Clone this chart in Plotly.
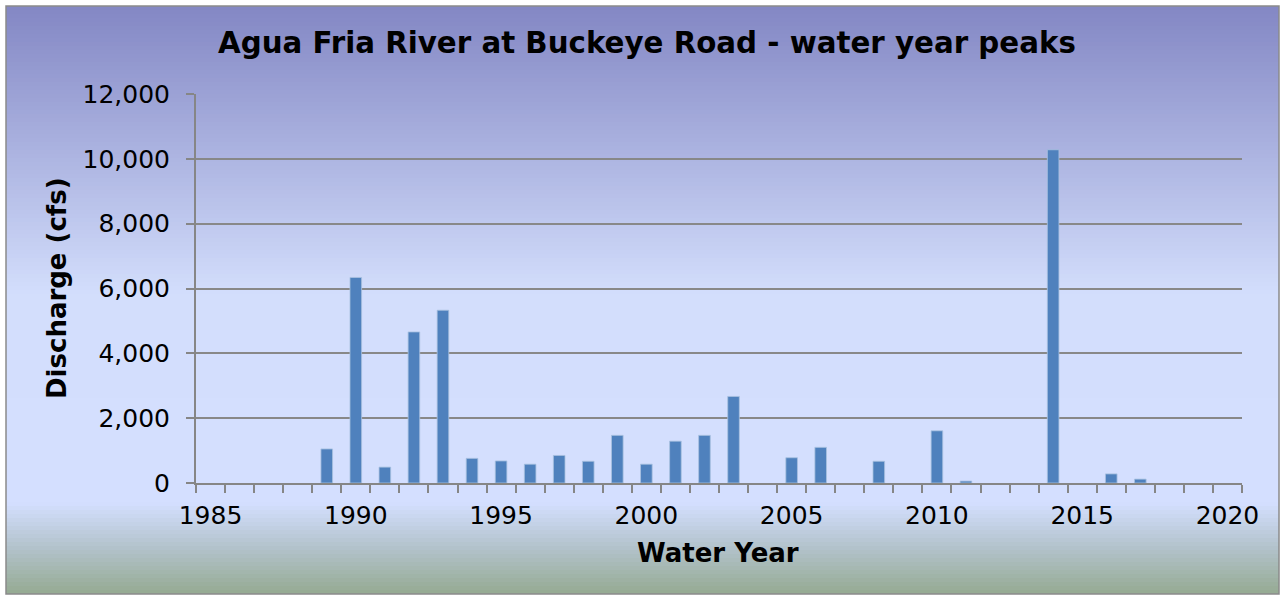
import plotly.graph_objects as go

years = list(range(1985, 2021))
peaks = [None, None, None, None, 1050, 6340, 490, 4660, 5330, 760,
         680, 580, 850, 670, 1470, 580, 1290, 1470, 2670, None,
         780, 1100, None, 670, None, 1610, 60, None, None, 10280,
         None, 280, 120, None, None, None]
y_ticks = [0, 2000, 4000, 6000, 8000, 10000, 12000]
x_ticks = [1985, 1990, 1995, 2000, 2005, 2010, 2015, 2020]

W, H = 1282, 598
L, R, T, B = 196, 40, 94, 115
PW, PH = W - L - R, H - T - B


def px(x):
    return (x - L) / PW


def py(y):
    return (H - B - y) / PH


def hex2rgb(h):
    h = h.lstrip('#')
    return [int(h[i:i + 2], 16) for i in (0, 2, 4)]


stops = [(0.0, '#8387C4'), (0.49, '#D3DEFC'), (0.845, '#D4DFFF'),
         (0.92, '#B3C3CC'), (1.0, '#95AA92')]


def grad(f):
    for (f0, c0), (f1, c1) in zip(stops[:-1], stops[1:]):
        if f0 <= f <= f1:
            t = (f - f0) / (f1 - f0) if f1 > f0 else 0
            a, b = hex2rgb(c0), hex2rgb(c1)
            return 'rgb(%d,%d,%d)' % tuple(round(a[i] + (b[i] - a[i]) * t) for i in range(3))
    return stops[-1][1]


shapes = []
top, bot = 6, 594
n = 147
step = (bot - top) / n
for i in range(n):
    y0 = top + i * step
    y1 = y0 + step + 0.6
    shapes.append(dict(type='rect', xref='paper', yref='paper', layer='below',
                       x0=px(6), x1=px(1279), y0=py(min(y1, bot)), y1=py(y0),
                       fillcolor=grad((i + 0.5) / n), line=dict(width=0)))
shapes.append(dict(type='rect', xref='paper', yref='paper', layer='below',
                   x0=px(6), x1=px(1279), y0=py(bot), y1=py(top),
                   fillcolor='rgba(0,0,0,0)', line=dict(color='#8a8a8a', width=1.5)))

fig = go.Figure(go.Bar(
    x=years, y=peaks, width=0.4,
    marker=dict(color='#4F81BD', line=dict(color='#A9C1E0', width=0.8)),
))

font = 'DejaVu Sans'
fig.update_layout(
    width=W, height=H,
    margin=dict(l=L, r=R, t=T, b=B),
    paper_bgcolor='white', plot_bgcolor='white',
    showlegend=False,
    shapes=shapes,
    font=dict(family=font, color='black'),
    title=dict(text='<b>Agua Fria River at Buckeye Road - water year peaks</b>',
               x=px(647), xref='paper', xanchor='center',
               y=1 - 43 / H, yref='container', yanchor='middle',
               font=dict(size=29.3, family=font, color='black')),
    xaxis=dict(range=[1984.5, 2020.5], tickvals=x_ticks, ticktext=[str(v) for v in x_ticks],
               ticks='', showgrid=False, zeroline=False,
               showline=True, linecolor='#868686', linewidth=2,
               tickfont=dict(size=25, family=font),
               ticklabelstandoff=9,
               minor=dict(ticks='outside', tick0=1984.5, dtick=1, ticklen=8,
                          tickcolor='#868686', tickwidth=2, showgrid=False)),
    yaxis=dict(range=[0, 12000], tickvals=y_ticks,
               ticktext=[f'{v:,}' for v in y_ticks],
               ticks='outside', ticklen=8, tickcolor='#868686', tickwidth=2,
               showgrid=True, gridcolor='#888888', gridwidth=1.5,
               zeroline=False, showline=True, linecolor='#868686', linewidth=2,
               tickfont=dict(size=25, family=font), ticklabelstandoff=11),
    annotations=[
        dict(text='<b>Water Year</b>', xref='paper', yref='paper',
             x=px(718), y=py(553), xanchor='center', yanchor='middle',
             showarrow=False, font=dict(size=26, family=font, color='black')),
        dict(text='<b>Discharge (cfs)</b>', xref='paper', yref='paper',
             x=px(57), y=py(288), xanchor='center', yanchor='middle', textangle=-90,
             showarrow=False, font=dict(size=26, family=font, color='black')),
    ],
)

fig.write_html('out.html', config={'displayModeBar': False},
               post_script="document.body.style.margin='0';document.body.style.overflow='hidden';")
